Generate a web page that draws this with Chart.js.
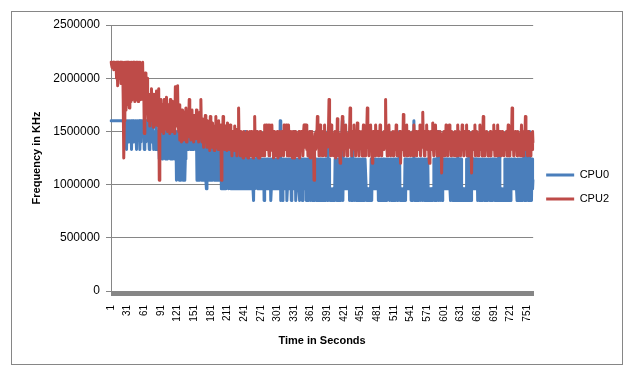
<!DOCTYPE html>
<html>
<head>
<meta charset="utf-8">
<title>CPU frequency</title>
<script src="https://cdn.jsdelivr.net/npm/chart.js"></script>
<style>
    body { margin: 0; background: #fff; }
    #wrap { position: relative; width: 637px; height: 375px; }
    #frame { position: absolute; left: 11px; top: 11px; width: 612px; height: 354px; box-sizing: border-box; border: 1px solid #868686; }
    #freqChart { position: absolute; left: 0; top: 0; }
</style>
</head>
<body>
<div id="wrap">
    <div id="frame"></div>
    <canvas id="freqChart" width="637" height="375"></canvas>
</div>
<script>
    // CPU0 frequency per second (kHz)
    const cpu0 = [
        1600000,1600000,1600000,1600000,1600000,1600000,1600000,1600000,1600000,1600000,1600000,
        1600000,1600000,1600000,1600000,1600000,1600000,1600000,1600000,1600000,1600000,1600000,
        1600000,1600000,1500000,1600000,1600000,1600000,1330000,1600000,1600000,1400000,
        1600000,1600000,1600000,1500000,1600000,1330000,1600000,1600000,1600000,1400000,
        1500000,1600000,1600000,1600000,1330000,1600000,1600000,1500000,1600000,1600000,
        1330000,1600000,1400000,1600000,1600000,1600000,1500000,1600000,1330000,1600000,
        1600000,1400000,1600000,1600000,1500000,1600000,1600000,1330000,1600000,1600000,
        1600000,1400000,1600000,1500000,
        1500000,1330000,1400000,1500000,1330000,1600000,1500000,1400000,1330000,1500000,
        1400000,1240000,1500000,1330000,1400000,1500000,1240000,1330000,1500000,1400000,
        1330000,1500000,1240000,1400000,1500000,1330000,1240000,1500000,1400000,1330000,
        1500000,1240000,1330000,1400000,1500000,1240000,1330000,1500000,1400000,1240000,
        1330000,1500000,1040000,1400000,1240000,1500000,1330000,1040000,1240000,1400000,
        1040000,1330000,1500000,1240000,1040000,1400000,1500000,1040000,1240000,1500000,
        1500000,1330000,1400000,1500000,1330000,1500000,1400000,1330000,1500000,1500000,
        1330000,1400000,1500000,1330000,1500000,1400000,1330000,1500000,1500000,
        1040000,1500000,1240000,1040000,1400000,1040000,1500000,1330000,1040000,1240000,
        1500000,1040000,1330000,1500000,1040000,1240000,1040000,960000,1400000,1040000,
        1500000,1240000,1040000,1330000,1500000,1040000,1240000,1400000,1040000,1500000,
        1330000,1040000,1240000,1500000,1040000,1400000,1040000,1240000,1500000,1040000,
        1330000,1040000,1500000,1240000,960000,1040000,1400000,960000,1500000,1040000,
        1240000,960000,1330000,1040000,1500000,1240000,
        1240000,960000,1500000,1240000,1040000,960000,1240000,1500000,960000,1240000,
        1330000,960000,1240000,1040000,1500000,960000,1240000,960000,1330000,1240000,
        960000,1500000,1240000,960000,1040000,1240000,960000,1330000,1240000,960000,
        1240000,1500000,960000,1240000,1040000,960000,1240000,1330000,960000,1240000,
        960000,1240000,960000,1040000,1240000,960000,850000,1240000,960000,1240000,
        1040000,1240000,1500000,960000,1240000,960000,1240000,1040000,960000,1240000,
        960000,1240000,1040000,960000,1240000,850000,1240000,960000,1240000,960000,
        1040000,1240000,960000,1240000,960000,1040000,1240000,850000,960000,1240000,
        960000,1240000,1040000,960000,1240000,960000,1240000,1040000,960000,1240000,
        960000,1240000,1240000,960000,1600000,850000,960000,1240000,850000,960000,
        1240000,960000,1240000,1040000,960000,1240000,850000,960000,1240000,960000,
        1240000,1040000,960000,1240000,850000,1240000,960000,1240000,960000,1500000,
        960000,1240000,850000,960000,1240000,960000,1040000,1240000,960000,850000,
        1240000,960000,1240000,960000,850000,1240000,960000,1240000,1040000,960000,
        1240000,850000,960000,1240000,960000,850000,1240000,960000,1500000,850000,
        1240000,960000,850000,1240000,960000,1240000,850000,960000,1240000,850000,
        1240000,960000,850000,1240000,850000,960000,1240000,850000,1240000,960000,
        850000,1240000,960000,850000,1240000,1240000,850000,960000,1240000,850000,
        1500000,850000,1240000,960000,850000,960000,850000,960000,850000,960000,
        850000,960000,850000,1240000,960000,1240000,850000,1240000,850000,1240000,
        960000,850000,1240000,850000,960000,1240000,1600000,850000,1240000,960000,
        1240000,960000,1240000,1240000,960000,1240000,1240000,960000,1240000,850000,
        1240000,960000,850000,1240000,1500000,850000,960000,1240000,850000,1240000,
        960000,850000,1240000,960000,1240000,850000,1240000,960000,850000,1240000,
        850000,960000,1240000,850000,1240000,960000,850000,1240000,1240000,960000,
        850000,960000,850000,960000,850000,960000,850000,960000,1240000,850000,
        1240000,960000,1240000,1240000,960000,1240000,960000,1240000,1240000,960000,
        1240000,850000,1240000,960000,850000,1240000,960000,1240000,850000,960000,
        1240000,850000,1240000,960000,850000,1240000,850000,960000,1240000,960000,
        1240000,850000,960000,1240000,850000,1240000,960000,850000,1240000,850000,
        960000,1240000,850000,1240000,960000,850000,1240000,960000,1240000,1500000,
        850000,960000,850000,960000,850000,960000,850000,960000,850000,1240000,
        850000,1240000,960000,1240000,1240000,960000,1240000,1240000,960000,1240000,
        850000,1240000,960000,850000,1240000,1600000,850000,960000,1240000,850000,
        1240000,960000,850000,1240000,850000,960000,1240000,850000,1240000,960000,
        1240000,850000,960000,1240000,850000,1240000,960000,850000,1240000,960000,
        1240000,850000,960000,850000,960000,850000,960000,850000,960000,850000,
        960000,1240000,850000,1240000,960000,1240000,850000,960000,1240000,1500000,
        850000,960000,1240000,850000,1240000,960000,850000,1240000,960000,1240000,
        1240000,960000,1240000,1240000,960000,1240000,960000,1240000,1240000,1240000,
        960000,850000,1240000,960000,1240000,850000,1240000,960000,850000,1240000,
        960000,850000,1240000,850000,1500000,960000,1240000,850000,1240000,960000,
        1240000,850000,960000,850000,960000,850000,960000,850000,960000,850000,
        1240000,850000,1240000,960000,1500000,850000,1240000,960000,850000,1240000,
        960000,1240000,1240000,960000,1240000,960000,1240000,1240000,960000,1240000,
        850000,960000,1240000,850000,1240000,960000,850000,1240000,1240000,850000,
        960000,1240000,850000,1240000,960000,850000,1240000,960000,850000,1240000,
        1240000,960000,850000,1240000,850000,960000,1240000,850000,1240000,960000,
        1240000,850000,1240000,960000,850000,1240000,960000,850000,1240000,1500000,
        850000,960000,850000,960000,850000,960000,850000,960000,850000,1240000,
        850000,1240000,960000,850000,1240000,850000,960000,1240000,960000,850000,
        1240000,960000,1240000,1240000,960000,1240000,1240000,960000,1240000,1240000,
        960000,850000,1240000,960000,1240000,850000,1240000,960000,850000,1240000,
        960000,850000,1240000,1330000,850000,1240000,960000,1500000,850000,1240000,
        960000,850000,1240000,1500000,850000,1240000,960000,850000,1240000,960000,1040000
    ];

    // CPU2 frequency per second (kHz)
    const cpu2 = [
        2150000,2150000,2100000,2150000,2150000,2080000,2150000,2150000,2100000,2150000,
        2000000,2150000,1930000,2150000,2100000,2000000,2150000,2150000,1950000,2150000,
        2080000,2150000,
        1800000,1250000,1600000,2150000,1700000,2150000,1900000,2150000,1750000,2150000,
        2050000,1720000,2150000,1950000,
        1780000,2150000,2000000,1800000,2150000,1850000,2150000,1780000,2050000,2150000,
        1800000,2150000,1900000,1780000,2150000,
        1820000,2150000,1950000,1800000,2080000,1850000,2150000,1800000,1950000,1480000,
        1900000,2050000,1750000,1820000,2000000,1700000,
        1600000,1850000,1750000,1550000,1820000,1650000,1900000,1600000,1750000,1540000,
        1850000,1650000,1800000,1560000,1700000,1880000,1600000,1750000,1550000,1900000,
        1040000,
        1700000,1550000,1800000,1600000,1500000,1750000,1650000,1480000,1800000,1600000,
        1700000,1520000,1820000,1650000,1500000,1750000,1580000,1680000,1480000,1800000,
        1600000,1700000,1500000,1780000,1620000,1550000,1750000,1480000,1920000,1650000,
        1700000,1550000,1930000,1600000,
        1500000,1750000,1420000,1650000,1550000,1400000,1700000,1500000,1620000,1420000,
        1680000,1450000,1600000,1720000,1400000,1550000,1650000,1450000,1600000,1800000,
        1480000,1650000,1420000,1580000,1700000,1450000,1550000,1400000,1650000,1500000,
        1600000,1430000,1700000,1520000,1450000,1620000,1400000,1550000,1680000,
        1450000,1800000,1500000,1400000,1620000,1480000,1350000,1580000,1450000,1650000,
        1400000,1520000,1350000,1600000,1450000,1380000,1550000,1320000,1640000,1400000,
        1500000,1350000,1580000,1420000,1480000,1320000,1550000,1400000,1640000,1350000,
        1450000,1520000,1330000,1600000,1400000,1480000,1350000,1560000,1040000,1450000,
        1380000,1640000,1420000,1500000,1330000,1550000,1400000,1470000,1320000,1580000,
        1400000,1500000,1330000,1450000,1560000,1350000,1420000,1270000,1500000,1380000,
        1450000,1320000,1550000,1400000,1350000,1480000,1270000,1520000,1400000,1720000,
        1350000,1460000,1270000,1500000,1380000,1330000,1450000,1250000,1500000,1400000,
        1340000,1480000,1270000,1420000,1500000,1350000,1250000,1450000,1380000,1500000,
        1450000,1270000,1500000,1350000,1420000,1250000,1500000,1380000,1640000,1330000,
        1480000,1270000,1450000,1500000,1350000,1250000,1420000,1250000,1500000,1330000,
        1400000,1270000,1480000,1350000,1450000,1270000,1560000,1380000,1420000,1560000,
        1330000,1450000,1560000,1350000,1270000,1560000,1400000,1320000,1480000,1560000,
        1350000,1450000,1250000,1500000,1380000,1270000,1480000,1420000,1330000,1500000,
        1250000,1450000,1350000,1500000,1270000,1420000,1380000,1500000,1330000,1450000,
        1270000,1560000,1380000,1450000,1330000,1560000,1400000,1270000,1480000,1560000,
        1350000,1420000,1270000,1500000,1380000,1450000,1250000,1500000,1350000,1250000,
        1450000,1500000,1330000,1400000,1480000,1270000,1450000,1350000,1500000,1250000,
        1420000,1380000,1500000,1330000,1450000,1270000,1480000,1560000,1350000,1560000,
        1400000,1560000,1330000,1480000,1270000,1450000,1380000,1500000,1250000,1420000,
        1350000,1500000,1270000,1450000,1400000,1040000,1380000,1480000,1330000,1500000,
        1450000,1640000,1350000,1500000,1270000,1420000,1560000,1330000,1480000,1380000,
        1270000,1500000,1420000,1330000,1560000,1400000,1270000,1480000,1350000,1450000,
        1380000,1500000,1800000,1350000,1450000,1270000,1560000,1400000,1330000,1480000,
        1270000,1450000,1380000,1500000,1250000,1420000,1350000,1620000,1400000,1270000,
        1480000,1350000,1200000,1450000,1380000,1500000,1640000,1330000,1420000,1270000,
        1500000,1380000,1560000,1330000,1450000,1270000,1480000,1400000,1350000,1500000,
        1720000,1380000,1450000,1270000,1500000,1350000,1420000,1560000,1330000,1480000,
        1270000,1450000,1380000,1580000,1350000,1420000,1270000,1500000,1380000,1450000,
        1330000,1500000,1270000,1420000,1560000,1350000,1480000,1270000,1450000,1380000,
        1500000,1720000,1350000,1420000,1270000,1500000,1380000,1560000,1330000,1450000,
        1200000,1400000,1500000,1350000,1450000,1270000,1560000,1380000,1420000,1330000,
        1500000,1270000,1450000,1380000,1560000,1350000,1420000,1270000,1480000,1400000,
        1330000,1500000,1380000,1450000,1800000,1350000,1420000,1270000,1500000,1380000,
        1560000,1330000,1450000,1270000,1480000,1400000,1350000,1500000,1270000,1450000,
        1380000,1500000,1330000,1560000,1400000,1270000,1480000,1350000,1450000,1270000,
        1500000,1200000,1420000,1380000,1500000,1330000,1660000,1400000,1270000,1480000,
        1350000,1450000,1560000,1270000,1420000,1380000,1500000,1330000,1450000,1270000,
        1480000,1400000,1350000,1500000,1270000,1560000,1380000,1420000,1330000,1500000,
        1270000,1450000,1380000,1500000,1330000,1420000,1560000,1270000,1480000,1350000,
        1450000,1680000,1380000,1420000,1270000,1500000,1350000,1450000,1560000,1330000,
        1420000,1500000,1270000,1200000,1450000,1380000,1500000,1330000,1420000,1580000,
        1350000,1270000,1480000,1400000,1560000,1330000,1450000,1270000,1500000,1380000,
        1450000,1330000,1500000,1270000,1420000,1110000,1380000,1480000,1350000,1500000,
        1270000,1450000,1380000,1560000,1330000,1420000,1270000,1500000,1380000,1560000,
        1350000,1450000,1270000,1500000,1420000,1330000,1480000,1380000,1270000,1500000,
        1450000,1350000,1420000,1270000,1560000,1380000,1500000,1330000,1450000,1270000,
        1480000,1400000,1560000,1350000,1420000,1270000,1500000,1380000,1450000,1330000,
        1560000,1270000,1420000,1500000,1350000,1450000,1270000,1480000,1380000,1110000,
        1420000,1500000,1330000,1450000,1380000,1560000,1270000,1420000,1500000,1350000,
        1450000,1270000,1480000,1380000,1560000,1330000,1420000,1500000,1270000,1450000,
        1640000,1350000,1500000,1270000,1420000,1380000,1500000,1330000,1450000,1270000,
        1480000,1400000,1350000,1500000,1270000,1450000,1380000,1420000,1330000,1560000,
        1400000,1270000,1500000,1350000,1450000,1270000,1560000,1380000,1420000,1330000,
        1500000,1270000,1450000,1380000,1500000,1350000,1420000,1270000,1480000,1380000,
        1450000,1330000,1500000,1270000,1420000,1560000,1350000,1450000,1270000,1500000,
        1380000,1420000,1720000,1330000,1480000,1270000,1450000,1380000,1500000,1350000,
        1420000,1270000,1500000,1380000,1450000,1330000,1480000,1270000,1420000,1560000,
        1350000,1450000,1270000,1500000,1380000,1420000,1640000,1330000,1480000,1400000,
        1270000,1500000,1350000,1450000,1380000,1270000,1480000,1420000,1330000,1500000,1400000
    ];

    // one category per sampled second
    const seconds = cpu0.map((v, i) => i + 1);
    // labels printed on the time axis
    const shownSeconds = [1, 31, 61, 91, 121, 151, 181, 211, 241, 271, 301, 331, 361,
        391, 421, 451, 481, 511, 541, 571, 601, 631, 661, 691, 721, 751];

    const axisGrey = '#868686';
    const fontFamily = '"Liberation Sans", Arial, sans-serif';

    new Chart(document.getElementById('freqChart'), {
        type: 'line',
        data: {
            labels: seconds,
            datasets: [{
                label: 'CPU0',
                data: cpu0,
                borderColor: '#4A7EBB',
                backgroundColor: '#4A7EBB',
                borderWidth: 3,
                pointRadius: 0,
                tension: 0,
                borderJoinStyle: 'round',
                borderCapStyle: 'round',
                order: 1
            }, {
                label: 'CPU2',
                data: cpu2,
                borderColor: '#BE4B48',
                backgroundColor: '#BE4B48',
                borderWidth: 3,
                pointRadius: 0,
                tension: 0,
                borderJoinStyle: 'round',
                borderCapStyle: 'round',
                order: 0
            }]
        },
        options: {
            responsive: false,
            animation: false,
            devicePixelRatio: 1,
            layout: { padding: { left: 20, top: 25, right: 18, bottom: 26 } },
            plugins: {
                tooltip: { enabled: false },
                legend: {
                    position: 'right',
                    labels: {
                        usePointStyle: true,
                        pointStyle: 'line',
                        pointStyleWidth: 28,
                        padding: 13,
                        color: '#000',
                        font: { family: fontFamily, size: 11 },
                        sort: (a, b) => a.datasetIndex - b.datasetIndex
                    }
                }
            },
            scales: {
                x: {
                    type: 'category',
                    offset: false,
                    grid: { drawOnChartArea: false, color: axisGrey, tickLength: 5 },
                    border: { color: axisGrey },
                    ticks: {
                        autoSkip: false,
                        minRotation: 90,
                        maxRotation: 90,
                        padding: 9,
                        color: '#000',
                        font: { family: fontFamily, size: 10 },
                        callback: function (value, index) {
                            return shownSeconds.includes(seconds[index]) ? String(seconds[index]) : '';
                        }
                    },
                    title: {
                        display: true,
                        text: 'Time in Seconds',
                        color: '#000',
                        font: { family: fontFamily, size: 11, weight: 'bold' },
                        padding: { top: 0, bottom: 1 }
                    },
                    afterFit: s => { s.height = 58; }
                },
                y: {
                    min: 0,
                    max: 2500000,
                    grid: { color: axisGrey, tickLength: 5 },
                    border: { color: axisGrey },
                    ticks: {
                        stepSize: 500000,
                        padding: 6,
                        color: '#000',
                        font: { family: fontFamily, size: 12 },
                        callback: v => String(v)
                    },
                    title: {
                        display: true,
                        text: 'Frequency in KHz',
                        color: '#000',
                        font: { family: fontFamily, size: 11, weight: 'bold' },
                        padding: { top: 10, bottom: 0 }
                    },
                    afterFit: s => { s.width = 91; }
                }
            }
        }
    });
</script>
</body>
</html>
